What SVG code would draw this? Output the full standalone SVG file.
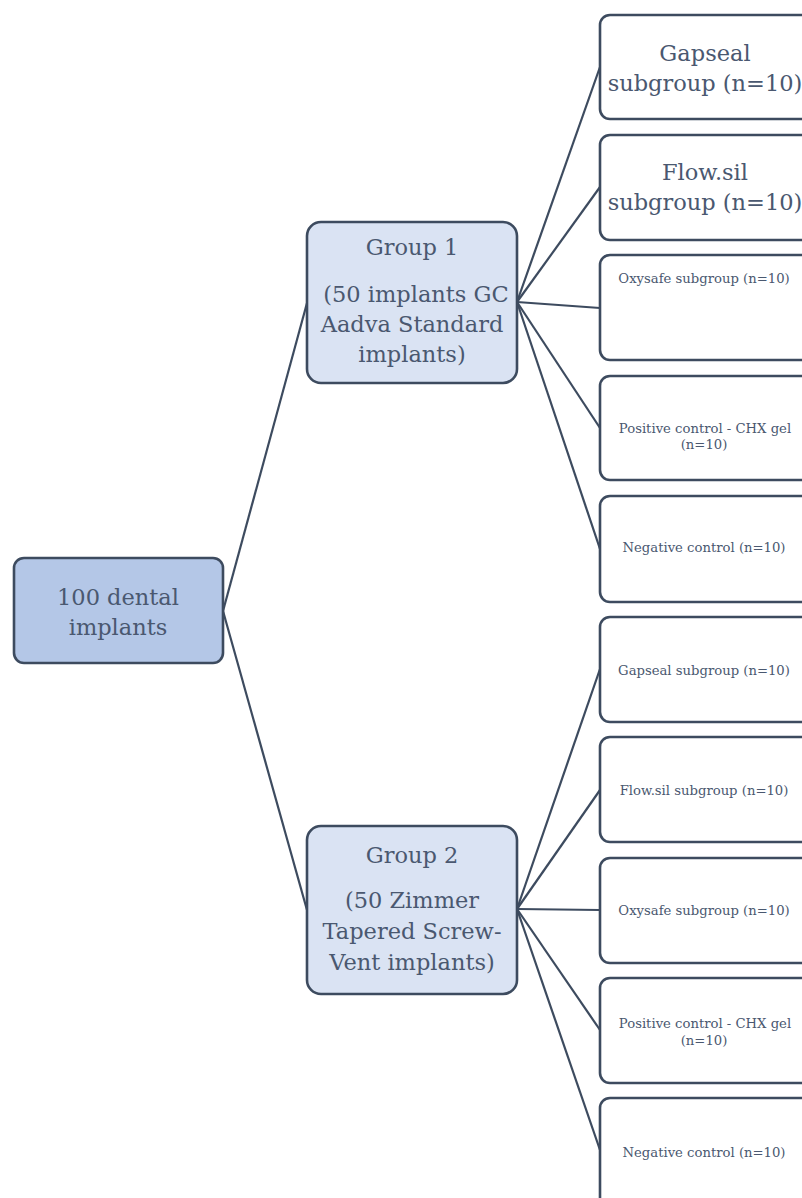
<svg xmlns="http://www.w3.org/2000/svg" width="802" height="1198" viewBox="0 0 802 1198">
<style>
.box{stroke:#3d4b5f;stroke-width:2.6}
.root{fill:#b4c7e7}
.grp{fill:#dae3f3}
.sub{fill:#ffffff}
.con line{stroke:#3d4b5f;stroke-width:2.2}
text{font-family:"DejaVu Serif",serif;fill:#4a5870;text-anchor:middle}
.big{font-size:22.5px}
.sm{font-size:13.2px}
</style>
<rect width="802" height="1198" fill="#ffffff"/>
<g id="connectors" class="con">
<line x1="223" y1="611" x2="307" y2="303"/>
<line x1="223" y1="611" x2="307" y2="910"/>
<line x1="517" y1="302" x2="600" y2="67"/>
<line x1="517" y1="302" x2="600" y2="187"/>
<line x1="517" y1="302" x2="600" y2="308"/>
<line x1="517" y1="302" x2="600" y2="428"/>
<line x1="517" y1="302" x2="600" y2="549"/>
<line x1="517" y1="909" x2="600" y2="669"/>
<line x1="517" y1="909" x2="600" y2="790"/>
<line x1="517" y1="909" x2="600" y2="910"/>
<line x1="517" y1="909" x2="600" y2="1030"/>
<line x1="517" y1="909" x2="600" y2="1150"/>
</g>
<g id="root">
<rect class="box root" x="14" y="558" width="209" height="105" rx="10"/>
<text class="big" x="118" y="605">100 dental</text>
<text class="big" x="118" y="635">implants</text>
</g>
<g id="group1">
<rect class="box grp" x="307" y="222" width="210" height="161" rx="14"/>
<text class="big" x="412" y="255">Group 1</text>
<text class="big" x="416" y="302">(50 implants GC</text>
<text class="big" x="412" y="332">Aadva Standard</text>
<text class="big" x="412" y="362">implants)</text>
</g>
<g id="group2">
<rect class="box grp" x="307" y="826" width="210" height="168" rx="14"/>
<text class="big" x="412" y="863">Group 2</text>
<text class="big" x="412" y="908">(50 Zimmer</text>
<text class="big" x="412" y="939">Tapered Screw-</text>
<text class="big" x="412" y="970">Vent implants)</text>
</g>
<g id="sub1">
<rect class="box sub" x="600" y="15" width="220" height="104" rx="10"/>
<text class="big" x="705" y="61">Gapseal</text>
<text class="big" x="705" y="91">subgroup (n=10)</text>
</g>
<g id="sub2">
<rect class="box sub" x="600" y="135" width="220" height="105" rx="10"/>
<text class="big" x="705" y="180">Flow.sil</text>
<text class="big" x="705" y="210">subgroup (n=10)</text>
</g>
<g id="sub3">
<rect class="box sub" x="600" y="255" width="220" height="105" rx="10"/>
<text class="sm" x="704" y="283">Oxysafe subgroup (n=10)</text>
</g>
<g id="sub4">
<rect class="box sub" x="600" y="376" width="220" height="104" rx="10"/>
<text class="sm" x="705" y="433">Positive control - CHX gel</text>
<text class="sm" x="704" y="449">(n=10)</text>
</g>
<g id="sub5">
<rect class="box sub" x="600" y="496" width="220" height="106" rx="10"/>
<text class="sm" x="704" y="552">Negative control (n=10)</text>
</g>
<g id="sub6">
<rect class="box sub" x="600" y="617" width="220" height="105" rx="10"/>
<text class="sm" x="704" y="675">Gapseal subgroup (n=10)</text>
</g>
<g id="sub7">
<rect class="box sub" x="600" y="737" width="220" height="105" rx="10"/>
<text class="sm" x="704" y="795">Flow.sil subgroup (n=10)</text>
</g>
<g id="sub8">
<rect class="box sub" x="600" y="858" width="220" height="105" rx="10"/>
<text class="sm" x="704" y="915">Oxysafe subgroup (n=10)</text>
</g>
<g id="sub9">
<rect class="box sub" x="600" y="978" width="220" height="105" rx="10"/>
<text class="sm" x="705" y="1028">Positive control - CHX gel</text>
<text class="sm" x="704" y="1045">(n=10)</text>
</g>
<g id="sub10">
<rect class="box sub" x="600" y="1098" width="220" height="110" rx="10"/>
<text class="sm" x="704" y="1157">Negative control (n=10)</text>
</g>
</svg>
